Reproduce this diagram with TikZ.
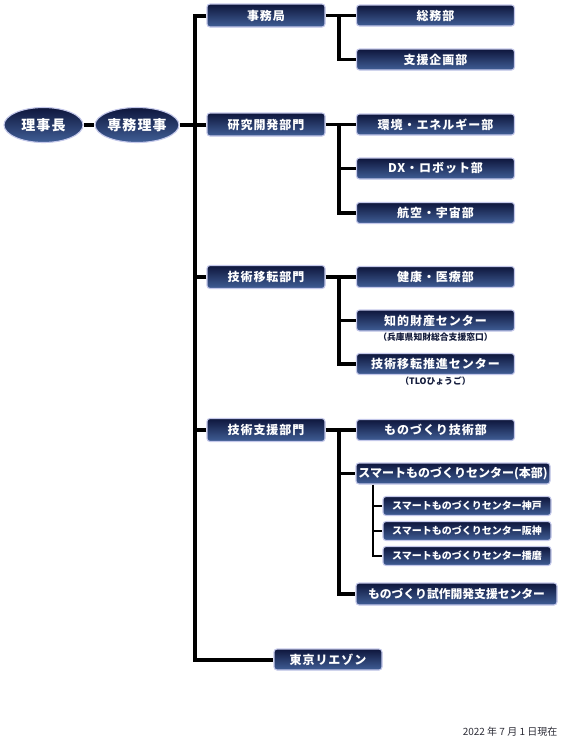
\documentclass[tikz,border=0pt]{standalone}
\usepackage{fontspec}
\setmainfont{Noto Sans CJK JP}
\newfontfamily\jpsp{Noto Sans CJK JP}[LetterSpace=8]
\usetikzlibrary{shapes.geometric}
\definecolor{navytop}{RGB}{14,22,60}
\definecolor{navybot}{RGB}{64,94,150}
\definecolor{glowc}{RGB}{196,200,234}
\definecolor{subtxt}{RGB}{20,28,60}
\definecolor{datetxt}{RGB}{45,45,55}
\tikzset{
  box/.style={rectangle, rounded corners=3pt, draw=glowc, line width=1.1pt,
    top color=navytop, bottom color=navybot, text=white, inner sep=0pt,
    font=\jpsp\bfseries\fontsize{12}{14}\selectfont, align=center},
  lvone/.style={box, minimum width=118pt, minimum height=23pt},
  lvtwo/.style={box, minimum width=158pt, minimum height=21pt},
  lvsub/.style={box, minimum width=168pt, minimum height=19pt, font=\bfseries\fontsize{10}{12}\selectfont},
  oval/.style={ellipse, draw=glowc, line width=1.1pt, top color=navytop, bottom color=navybot,
    text=white, inner sep=0pt, minimum width=79pt, minimum height=35pt,
    font=\jpsp\bfseries\fontsize{14}{16}\selectfont},
  note/.style={text=subtxt, font=\bfseries\fontsize{8.8}{10}\selectfont, inner sep=0pt},
  trunkline/.style={draw=black, line width=4pt},
  branchline/.style={draw=black, line width=3.4pt},
  subline/.style={draw=black, line width=2.6pt},
}
\begin{document}
\begin{tikzpicture}[x=1pt, y=-1pt]
\useasboundingbox (0,0) rectangle (562,737);
\coordinate (tr) at (194.5,300);
\coordinate (bx) at (339,0);
\coordinate (sx) at (373,0);
\node[oval] (rijicho) at (43.5,125) {理事長};
\node[oval] (senmu) at (137,125) {専務理事};
\node[lvone] (jimukyoku) at (266,15.5) {事務局};
\node[lvtwo] (soumu) at (435.5,15.5) {総務部};
\node[lvtwo] (shienkikaku) at (435.5,59.5) {支援企画部};
\node[lvone] (kenkyu) at (266,124.5) {研究開発部門};
\node[lvtwo] (kankyo) at (435.5,124.5) {環境・エネルギー部};
\node[lvtwo] (dx) at (435.5,168.5) {DX・ロボット部};
\node[lvtwo] (koku) at (435.5,213) {航空・宇宙部};
\node[lvone] (iten) at (266,277) {技術移転部門};
\node[lvtwo] (kenko) at (435.5,277) {健康・医療部};
\node[lvtwo] (chizai) at (435.5,320.5) {知的財産センター};
\node[note] (chizainote) at (435.5,337.5) {（兵庫県知財総合支援窓口）};
\node[lvtwo] (tlo) at (435.5,364) {技術移転推進センター};
\node[note] (tlonote) at (435.5,381) {（TLOひょうご）};
\node[lvone] (shienbumon) at (266,430) {技術支援部門};
\node[lvtwo] (monozukuri) at (435.5,430) {ものづくり技術部};
\node[box, minimum width=194pt, minimum height=21pt, font=\bfseries\fontsize{12}{14}\selectfont] (smart) at (453,473.5) {スマートものづくりセンター(本部)};
\node[lvsub] (kobe) at (467,506) {スマートものづくりセンター神戸};
\node[lvsub] (hanshin) at (467,531) {スマートものづくりセンター阪神};
\node[lvsub] (harima) at (467,556) {スマートものづくりセンター播磨};
\node[box, minimum width=201pt, minimum height=22pt, font=\bfseries\fontsize{11.8}{14}\selectfont] (shisaku) at (456.5,594) {ものづくり試作開発支援センター};
\node[box, minimum width=108pt, minimum height=21pt] (tokyo) at (328,659.5) {東京リエゾン};
\node[anchor=east, text=datetxt, inner sep=0pt, font=\fontsize{10}{12}\selectfont] (date) at (557.5,731.5) {2022 年 7 月 1 日現在};
% trunk
\draw[trunkline] (rijicho.east) -- (senmu.west);
\draw[trunkline] (senmu.east) -- (senmu.east -| tr);
\draw[trunkline] (jimukyoku.west) -| (tr) |- (tokyo.west);
\draw[trunkline] (kenkyu.west) -- (kenkyu.west -| tr);
\draw[trunkline] (iten.west) -- (iten.west -| tr);
\draw[trunkline] (shienbumon.west) -- (shienbumon.west -| tr);
% branches
\draw[branchline] (jimukyoku.east) -- (soumu.west);
\draw[branchline] (jimukyoku.east -| bx) |- (shienkikaku.west);
\draw[branchline] (kenkyu.east) -- (kankyo.west);
\draw[branchline] (kenkyu.east -| bx) |- (koku.west);
\draw[branchline] (dx.west -| bx) -- (dx.west);
\draw[branchline] (iten.east) -- (kenko.west);
\draw[branchline] (iten.east -| bx) |- (tlo.west);
\draw[branchline] (chizai.west -| bx) -- (chizai.west);
\draw[branchline] (shienbumon.east) -- (monozukuri.west);
\draw[branchline] (shienbumon.east -| bx) |- (shisaku.west);
\draw[branchline] (smart.west -| bx) -- (smart.west);
% sub branches
\draw[subline] (smart.south -| sx) |- (harima.west);
\draw[subline] (kobe.west -| sx) -- (kobe.west);
\draw[subline] (hanshin.west -| sx) -- (hanshin.west);
\end{tikzpicture}
\end{document}
